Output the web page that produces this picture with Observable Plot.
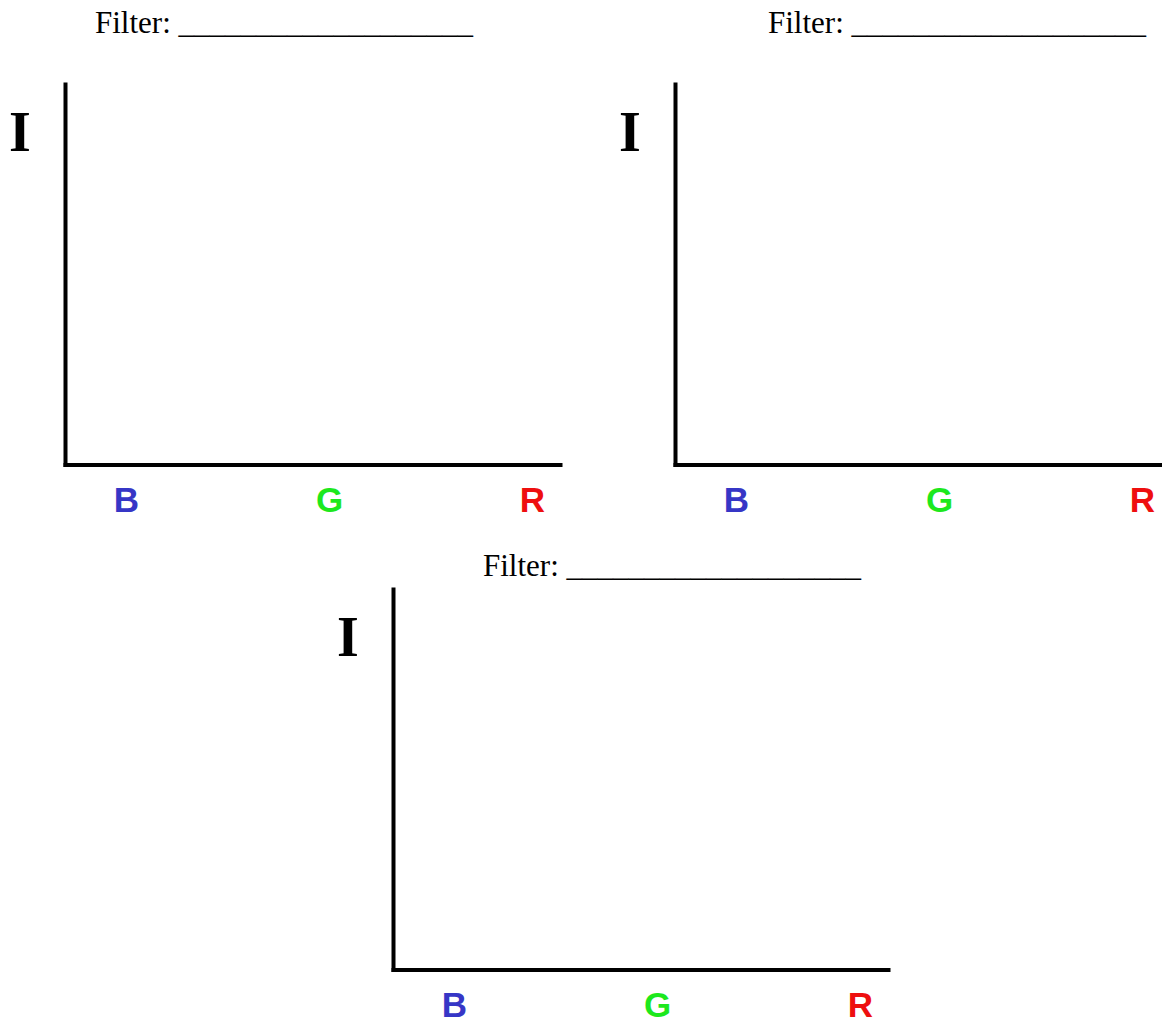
<!DOCTYPE html>
<html>
<head>
<meta charset="utf-8">
<script src="https://cdn.jsdelivr.net/npm/d3@7"></script>
<script src="https://cdn.jsdelivr.net/npm/@observablehq/plot@0.6"></script>
<style>
  html, body { margin: 0; padding: 0; background: #fff; }
  #page { position: relative; width: 1162px; height: 1023px; overflow: hidden; background: #fff; }
  .title { position: absolute; font-family: "Liberation Serif", "Times New Roman", serif; font-size: 31px; line-height: 31px; color: #000; white-space: pre; }
  .panel { position: absolute; }
</style>
</head>
<body>
<div id="page"></div>
<script>
// ---- data ----
const categories = ["B", "G", "R"];
const categoryColors = ["#3636c6", "#1de81d", "#ee0f0f"];
const yLabel = "I";
const titleText = "Filter: ___________________";

const page = document.getElementById("page");
const rows = categories.map((c, i) => ({cat: c, color: categoryColors[i]}));

function panel(left, top, width, height, titleLeft, titleTop) {
  const t = document.createElement("div");
  t.className = "title";
  t.style.left = titleLeft + "px";
  t.style.top = titleTop + "px";
  t.textContent = titleText;
  page.appendChild(t);

  const chart = Plot.plot({
    width, height,
    marginLeft: 65, marginRight: width - 560 > 0 ? width - 560 : 0,
    marginTop: 24, marginBottom: height - 404.5,
    style: {background: "transparent", overflow: "visible"},
    x: {type: "point", domain: categories, range: [126, 532], padding: 0, axis: null},
    y: {domain: [0, 1], axis: null},
    color: {type: "identity"},
    marks: [
      Plot.frame({anchor: "left", stroke: "#000", strokeWidth: 4, strokeLinecap: "square"}),
      Plot.frame({anchor: "bottom", stroke: "#000", strokeWidth: 4, strokeLinecap: "square"}),
      Plot.text(rows, {x: "cat", text: "cat", fill: "color", frameAnchor: "bottom",
        lineAnchor: "middle", textAnchor: "middle", dy: 36,
        fontFamily: "'Liberation Sans', Arial, sans-serif", fontWeight: "bold", fontSize: 35}),
      Plot.text([yLabel], {text: d => d, frameAnchor: "top-left", textAnchor: "middle",
        lineAnchor: "middle", dx: -45.5, dy: 49, fill: "#000",
        fontFamily: "'Liberation Serif', 'Times New Roman', serif", fontWeight: "bold", fontSize: 56})
    ]
  });
  chart.classList.add("panel");
  chart.style.left = left + "px";
  chart.style.top = top + "px";
  page.appendChild(chart);
}

// panel positions (page layout)
panel(0, 60, 580, 480, 95, 7);
panel(610, 60, 552, 480, 768, 7);
panel(328, 565, 580, 458, 483, 550);
</script>
</body>
</html>
